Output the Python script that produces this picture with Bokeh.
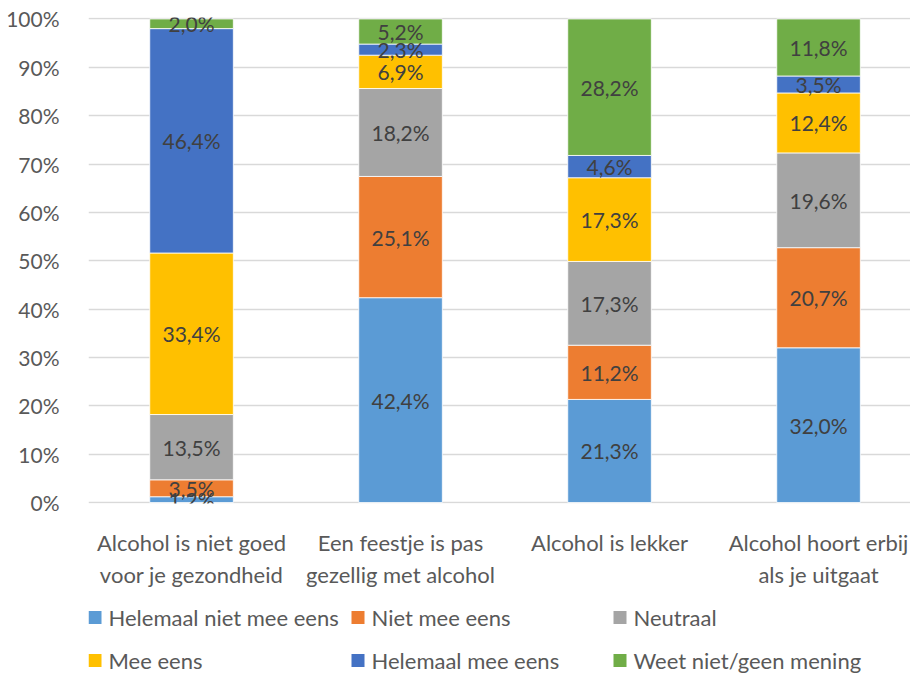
from bokeh.plotting import figure
from bokeh.layouts import column
from bokeh.models import ColumnDataSource, Range1d, FixedTicker, NumeralTickFormatter
from bokeh.embed import file_html
from bokeh.resources import INLINE
from bokeh.core.properties import value

categories = ["Alcohol is niet goed\nvoor je gezondheid",
              "Een feestje is pas\ngezellig met alcohol",
              "Alcohol is lekker",
              "Alcohol hoort erbij\nals je uitgaat"]
series_names = ["Helemaal niet mee eens", "Niet mee eens", "Neutraal",
                "Mee eens", "Helemaal mee eens", "Weet niet/geen mening"]
colors = ["#5B9BD5", "#ED7D31", "#A5A5A5", "#FFC000", "#4472C4", "#70AD47"]

helemaal_niet_mee_eens = [1.2, 42.4, 21.3, 32.0]
niet_mee_eens = [3.5, 25.1, 11.2, 20.7]
neutraal = [13.5, 18.2, 17.3, 19.6]
mee_eens = [33.4, 6.9, 17.3, 12.4]
helemaal_mee_eens = [46.4, 2.3, 4.6, 3.5]
weet_niet = [2.0, 5.2, 28.2, 11.8]

y_ticks = [0.0, 0.1, 0.2, 0.3, 0.4, 0.5, 0.6, 0.7, 0.8, 0.9, 1.0]

series = [helemaal_niet_mee_eens, niet_mee_eens, neutraal, mee_eens,
          helemaal_mee_eens, weet_niet]
keys = ["s%d" % i for i in range(len(series))]
xs = list(range(1, len(categories) + 1))

# 100% stacked: normalise each category to its total
totals = [sum(s[j] for s in series) for j in range(len(categories))]
data = {"x": xs}
for k, s in zip(keys, series):
    data[k] = [v / t for v, t in zip(s, totals)]
source = ColumnDataSource(data)

FONT = "Lato"
AXIS_COLOR = "#595959"
LEFT = 88

p = figure(width=910, height=593, output_backend="svg", toolbar_location=None,
           x_range=Range1d(0.507, 4.44), y_range=Range1d(-0.002, 1.003),
           min_border_left=LEFT, min_border_top=17, min_border_right=0,
           min_border_bottom=90)
p.outline_line_color = None
p.background_fill_color = "white"
p.border_fill_color = "white"

renderers = p.vbar_stack(keys, x="x", width=0.4, source=source, color=colors,
                         line_color="white", line_width=0.8)

# data labels in the middle of every segment
lx, ly, lt = [], [], []
for j in range(len(categories)):
    bottom = 0.0
    for k, s in zip(keys, series):
        h = data[k][j]
        lx.append(xs[j])
        ly.append(bottom + h / 2)
        lt.append(("%.1f" % s[j]).replace(".", ",") + "%")
        bottom += h
p.text(x="x", y="y", text="t", source=ColumnDataSource(dict(x=lx, y=ly, t=lt)),
       text_align="center", text_baseline="middle", text_color="#404040",
       text_font=value(FONT), text_font_size="21px")

# axes
p.yaxis.ticker = FixedTicker(ticks=y_ticks)
p.yaxis.formatter = NumeralTickFormatter(format="0%")
p.yaxis.axis_line_color = None
p.yaxis.major_tick_line_color = None
p.yaxis.minor_tick_line_color = None
p.yaxis.major_label_text_font = FONT
p.yaxis.major_label_text_font_size = "21px"
p.yaxis.major_label_text_color = AXIS_COLOR
p.yaxis.major_label_standoff = 23

p.xaxis.ticker = FixedTicker(ticks=xs)
p.xaxis.major_label_overrides = {x: c for x, c in zip(xs, categories)}
p.xaxis.axis_line_color = None
p.xaxis.major_tick_line_color = None
p.xaxis.minor_tick_line_color = None
p.xaxis.major_label_text_font = FONT
p.xaxis.major_label_text_font_size = "22px"
p.xaxis.major_label_text_color = AXIS_COLOR
p.xaxis.major_label_text_line_height = 1.2
p.xaxis.major_label_standoff = 19

p.xgrid.grid_line_color = None
p.ygrid.grid_line_color = "#D9D9D9"
p.ygrid.grid_line_width = 1.3

# legend panel, 3 columns x 2 rows; frame aligned with the chart frame
LH = 82
lg = figure(width=910, height=LH, output_backend="svg", toolbar_location=None,
            x_range=Range1d(LEFT, 910), y_range=Range1d(0, LH),
            min_border_left=LEFT, min_border_right=0, min_border_top=0,
            min_border_bottom=0, x_axis_location=None, y_axis_location=None)
lg.outline_line_color = None
lg.grid.grid_line_color = None
col_x = [88, 351, 613]
row_y = [58, 15]
sq_x, sq_y, tx, ty = [], [], [], []
for i, name in enumerate(series_names):
    cx = col_x[i % 3]
    cy = row_y[i // 3]
    sq_x.append(cx + 6.5)
    sq_y.append(cy)
    tx.append(cx + 20)
    ty.append(cy)
lsrc = ColumnDataSource(dict(sx=sq_x, sy=sq_y, tx=tx, ty=ty, name=series_names, color=colors))
lg.rect(x="sx", y="sy", width=13, height=13, source=lsrc, fill_color="color", line_color=None)
lg.text(x="tx", y="ty", text="name", source=lsrc, text_align="left", text_baseline="middle",
        text_color=AXIS_COLOR, text_font=value(FONT), text_font_size="22px")

layout = column(p, lg, spacing=0)
open("out.html", "w").write(file_html(layout, INLINE))
